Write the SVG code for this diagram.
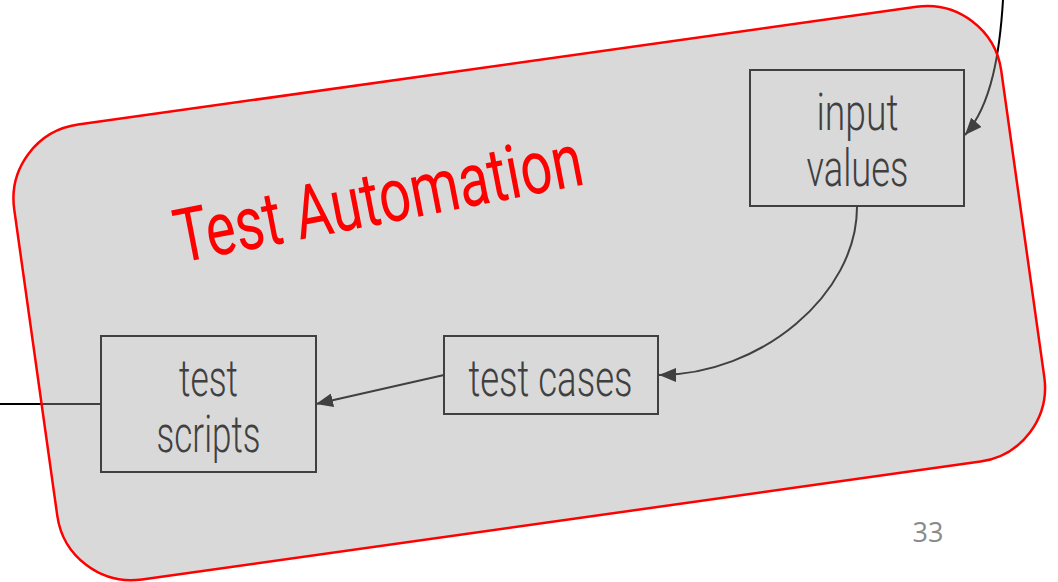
<svg xmlns="http://www.w3.org/2000/svg" width="1058" height="582" viewBox="0 0 1058 582">
  <style>
    .conn { fill: none; stroke: #000; stroke-width: 2; }
    .box { fill: none; stroke: #404040; stroke-width: 2; }
    .lbl { font-family: Roboto, "Liberation Sans", sans-serif; font-weight: 300; font-size: 52px; fill: #404040; text-anchor: middle; }
    .title { font-family: Roboto, "Liberation Sans", sans-serif; font-size: 75px; fill: #ff0000; }
    .page { font-family: "Open Sans", "Liberation Sans", sans-serif; font-size: 27px; fill: #8a8a8a; text-anchor: middle; }
  </style>
  <defs>
    <marker id="arrow" viewBox="0 0 17 14" refX="17" refY="7" markerWidth="17" markerHeight="14" markerUnits="userSpaceOnUse" orient="auto">
      <path d="M0,0 L17,7 L0,14 z" fill="#000"/>
    </marker>
  </defs>
  <rect width="1058" height="582" fill="#ffffff"/>

  <g id="connectors">
    <path class="conn" d="M1003,0 C1000,50 992,105 965,135" marker-end="url(#arrow)"/>
    <path class="conn" d="M857,207 C857,295 760,375 659,375" marker-end="url(#arrow)"/>
    <path class="conn" d="M444,375 L316,404" marker-end="url(#arrow)"/>
    <path class="conn" d="M0,404 L101,404"/>
  </g>

  <g id="test-automation">
    <rect x="30.9" y="63.45" width="996.7" height="459.3" rx="75" ry="75" transform="rotate(-8 529.25 293.1)" fill="#a0a0a0" fill-opacity="0.4" stroke="#ff0000" stroke-width="2.5"/>
    <text class="title" x="180" y="263" transform="rotate(-11 180 263)" textLength="414" lengthAdjust="spacingAndGlyphs">Test Automation</text>
  </g>

  <g id="input-values">
    <rect class="box" x="750" y="70" width="214" height="136"/>
    <text class="lbl" x="857.5" y="130" textLength="82" lengthAdjust="spacingAndGlyphs">input</text>
    <text class="lbl" x="857.5" y="186" textLength="102" lengthAdjust="spacingAndGlyphs">values</text>
  </g>

  <g id="test-cases">
    <rect class="box" x="444" y="336" width="214" height="78"/>
    <text class="lbl" x="550.5" y="396" textLength="164" lengthAdjust="spacingAndGlyphs">test cases</text>
  </g>

  <g id="test-scripts">
    <rect class="box" x="101" y="336" width="215" height="136"/>
    <text class="lbl" x="208.5" y="396" textLength="59" lengthAdjust="spacingAndGlyphs">test</text>
    <text class="lbl" x="208.5" y="452" textLength="104" lengthAdjust="spacingAndGlyphs">scripts</text>
  </g>

  <g id="page-number">
    <text class="page" x="928" y="542">33</text>
  </g>
</svg>
